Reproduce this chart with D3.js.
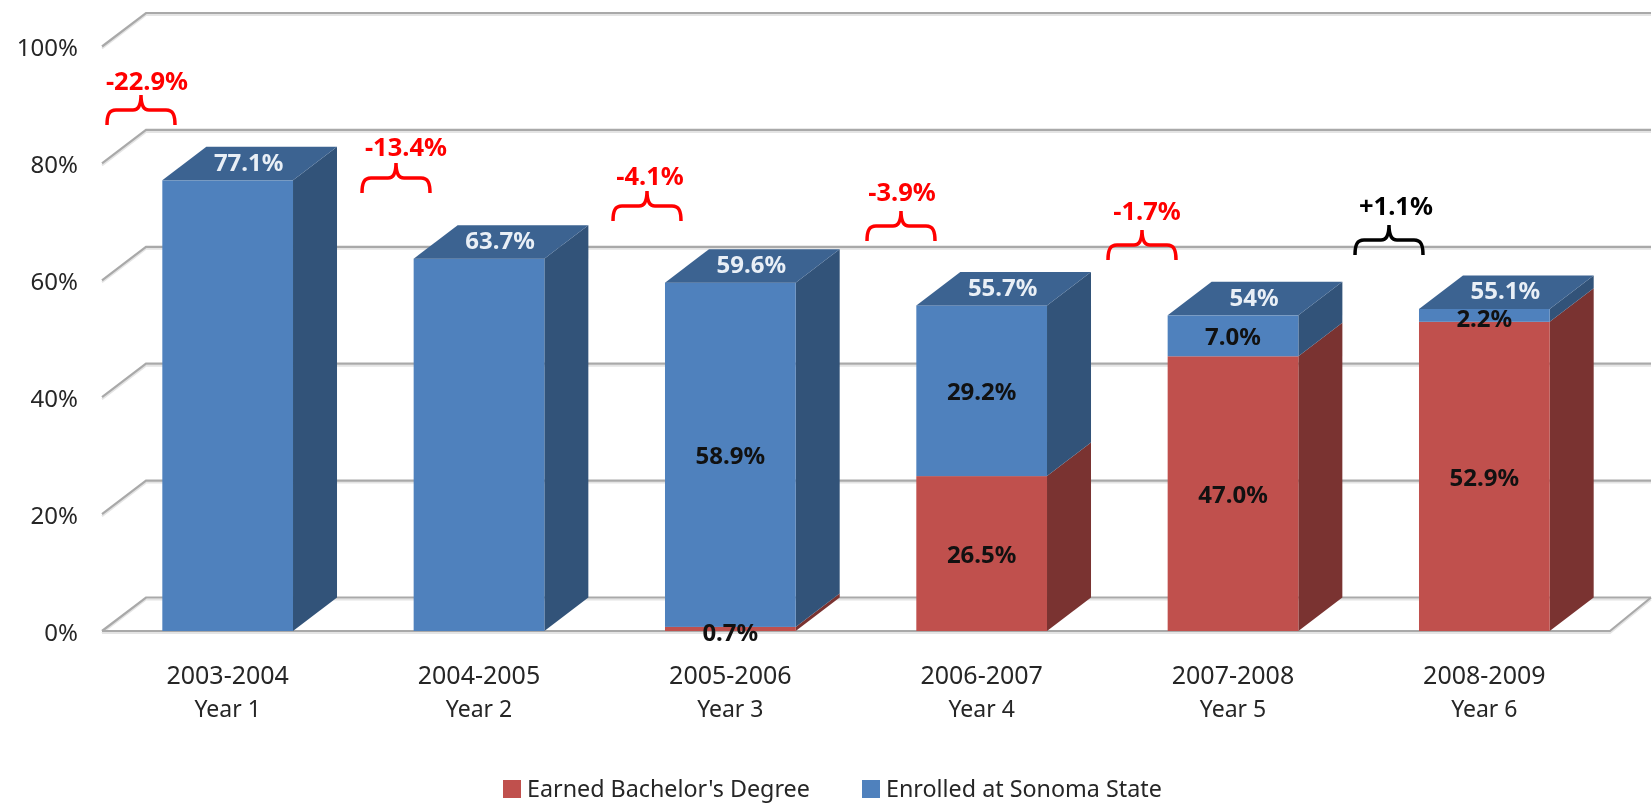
<!DOCTYPE html>
<html>
<head>
<meta charset="utf-8">
<script src="https://cdn.jsdelivr.net/npm/d3@7"></script>
<style>
  html, body { margin: 0; padding: 0; background: #fff; }
  svg { display: block; font-family: "Noto Sans", sans-serif; filter: blur(0.5px); }
</style>
</head>
<body>
<div id="chart"></div>
<script>
// Chart data
const categories = ["2003-2004", "2004-2005", "2005-2006", "2006-2007", "2007-2008", "2008-2009"];
const yearLabels = ["Year 1", "Year 2", "Year 3", "Year 4", "Year 5", "Year 6"];
const earnedDegree = [0, 0, 0.7, 26.5, 47.0, 52.9];
const enrolled = [77.1, 63.7, 58.9, 29.2, 7.0, 2.2];
const totalLabels = ["77.1%", "63.7%", "59.6%", "55.7%", "54%", "55.1%"];
const changeLabels = ["-22.9%", "-13.4%", "-4.1%", "-3.9%", "-1.7%", "+1.1%"];
const yTicks = [0, 20, 40, 60, 80, 100];
const seriesNames = ["Earned Bachelor's Degree", "Enrolled at Sonoma State"];

var width = 1652;
var height = 803;

// depth of the fake 3d box
var depthX = 44;
var depthY = 33.5;

var front = { left: 102, right: 1610 };

var colors = {
  red: { front: "#c0504d", side: "#7a3331" },
  blue: { front: "#4f81bd", side: "#325379", top: "#3c6391" }
};

// brackets over the bars: left edge, bottom edge, label centre, label baseline
var bracePlaces = [
  [107, 125, 147, 90],
  [362, 193, 406, 156],
  [613, 221, 650, 185],
  [867, 241, 902, 201],
  [1108, 260, 1147, 220],
  [1355, 255, 1396, 215]
];

var svg = d3.select("#chart")
  .append("svg")
    .attr("width", width)
    .attr("height", height);

var x = d3.scaleBand()
  .domain(categories)
  .range([front.left, front.right])
  .paddingInner(0.48)
  .paddingOuter(0.24);

var y = d3.scaleLinear()
  .domain([0, 100])
  .range([631, 46.5]);

// stack the two series
var rows = categories.map((c, i) => ({ category: c, earned: earnedDegree[i], enrolled: enrolled[i] }));
var stacked = d3.stack().keys(["earned", "enrolled"])(rows);

// GRID LINES
var grid = svg.append("g");

yTicks.forEach(t => {
  var pts = [[front.left, y(t)], [front.left + depthX, y(t) - depthY], [width - 1, y(t) - depthY]];
  grid.append("path")
    .attr("d", d3.line()(pts))
    .attr("transform", "translate(0,2)")
    .attr("fill", "none")
    .attr("stroke", "#e4e4e4")
    .attr("stroke-width", 2);
  grid.append("path")
    .attr("d", d3.line()(pts))
    .attr("fill", "none")
    .attr("stroke", "#a9a9a9")
    .attr("stroke-width", 2.2);
});

// floor edge at the front and the right
var floorPts = [[front.left, y(0)], [front.right, y(0)], [front.right + depthX - 3, y(0) - depthY]];
grid.append("path")
  .attr("d", d3.line()(floorPts))
  .attr("transform", "translate(0,2)")
  .attr("fill", "none")
  .attr("stroke", "#e4e4e4")
  .attr("stroke-width", 2);
grid.append("path")
  .attr("d", d3.line()(floorPts))
  .attr("fill", "none")
  .attr("stroke", "#a9a9a9")
  .attr("stroke-width", 2.2);

// Y AXIS
var yAxis = d3.axisLeft(y)
  .tickValues(yTicks)
  .tickSize(0)
  .tickPadding(0)
  .tickFormat(d => d + "%");

svg.append("g")
  .attr("transform", "translate(78,1.5)")
  .call(yAxis)
  .call(g => g.select(".domain").remove())
  .selectAll("text")
    .style("font-family", "'Noto Sans', sans-serif")
    .style("font-size", "24px")
    .attr("fill", "#262626");

// BARS
var barColors = [colors.red, colors.blue];
var bars = svg.append("g");

function sidePath(cat, low, high) {
  var x1 = x(cat) + x.bandwidth();
  return d3.line()([
    [x1, y(low)],
    [x1 + depthX, y(low) - depthY],
    [x1 + depthX, y(high) - depthY],
    [x1, y(high)]
  ]) + "Z";
}

stacked.forEach((layer, s) => {
  var g = bars.append("g");

  g.selectAll(".side")
    .data(layer)
    .enter()
    .append("path")
      .attr("class", "side")
      .attr("d", d => sidePath(d.data.category, d[0], d[1]))
      .attr("fill", barColors[s].side);

  g.selectAll(".front")
    .data(layer)
    .enter()
    .append("rect")
      .attr("class", "front")
      .attr("x", d => x(d.data.category))
      .attr("y", d => y(d[1]))
      .attr("width", x.bandwidth())
      .attr("height", d => y(d[0]) - y(d[1]))
      .attr("fill", barColors[s].front);
});

// top faces, always the blue series because it is on top of the stack
bars.selectAll(".top")
  .data(stacked[1])
  .enter()
  .append("path")
    .attr("class", "top")
    .attr("d", d => {
      var x0 = x(d.data.category);
      var x1 = x0 + x.bandwidth();
      return d3.line()([
        [x0, y(d[1])],
        [x1, y(d[1])],
        [x1 + depthX, y(d[1]) - depthY],
        [x0 + depthX, y(d[1]) - depthY]
      ]) + "Z";
    })
    .attr("fill", colors.blue.top);

// BAR LABELS
// the first two years only have the total, no inner label
stacked.forEach(layer => {
  svg.selectAll(null)
    .data(layer.filter(d => d[1] - d[0] > 0 && d.data.earned > 0))
    .enter()
    .append("text")
      .attr("x", d => x(d.data.category) + x.bandwidth() / 2)
      .attr("y", d => y((d[0] + d[1]) / 2) + (d[1] - d[0] < 3 ? 3 : 1))
      .attr("dy", "0.36em")
      .attr("text-anchor", "middle")
      .style("font-size", "24px")
      .style("font-weight", "bold")
      .attr("fill", "#111")
      .text(d => (d[1] - d[0]).toFixed(1) + "%");
});

svg.selectAll(null)
  .data(stacked[1])
  .enter()
  .append("text")
    .attr("x", d => x(d.data.category) + x.bandwidth() / 2 + depthX / 2 - 1)
    .attr("y", d => y(d[1]) - depthY / 2 - 1.5)
    .attr("dy", "0.36em")
    .attr("text-anchor", "middle")
    .style("font-size", "24px")
    .style("font-weight", "bold")
    .attr("fill", "#e9eff6")
    .text((d, i) => totalLabels[i]);

// CATEGORY LABELS
var catLabels = svg.selectAll(null)
  .data(categories)
  .enter()
  .append("text")
    .attr("text-anchor", "middle")
    .attr("fill", "#262626");

catLabels.append("tspan")
  .attr("x", d => x(d) + x.bandwidth() / 2)
  .attr("y", 684)
  .style("font-size", "25px")
  .text(d => d);

catLabels.append("tspan")
  .attr("x", d => x(d) + x.bandwidth() / 2)
  .attr("y", 717)
  .style("font-size", "23px")
  .text((d, i) => yearLabels[i]);

// BRACKETS AND CHANGE LABELS
function bracePath(left, bottom) {
  var w = 68;
  var mid = left + w / 2;
  return "M" + left + "," + bottom +
    "C" + left + "," + (bottom - 10) + " " + (left + 2) + "," + (bottom - 15) + " " + (left + 9) + "," + (bottom - 15) +
    "L" + (mid - 8) + "," + (bottom - 15) +
    "C" + (mid - 3) + "," + (bottom - 15) + " " + mid + "," + (bottom - 20) + " " + mid + "," + (bottom - 30) +
    "C" + mid + "," + (bottom - 20) + " " + (mid + 3) + "," + (bottom - 15) + " " + (mid + 8) + "," + (bottom - 15) +
    "L" + (left + w - 9) + "," + (bottom - 15) +
    "C" + (left + w - 2) + "," + (bottom - 15) + " " + (left + w) + "," + (bottom - 10) + " " + (left + w) + "," + bottom;
}

changeLabels.forEach((label, i) => {
  var place = bracePlaces[i];
  var col = label[0] === "+" ? "#000" : "#ff0000";

  svg.append("path")
    .attr("d", bracePath(place[0], place[1]))
    .attr("fill", "none")
    .attr("stroke", col)
    .attr("stroke-width", 3.5);

  svg.append("text")
    .attr("x", place[2])
    .attr("y", place[3])
    .attr("text-anchor", "middle")
    .style("font-size", "25.5px")
    .style("font-weight", "bold")
    .attr("fill", col)
    .text(label);
});

// LEGEND
var legendX = [503, 862];
var legendCol = [colors.red.front, colors.blue.front];

seriesNames.forEach((name, i) => {
  svg.append("rect")
    .attr("x", legendX[i])
    .attr("y", 780)
    .attr("width", 18)
    .attr("height", 18)
    .attr("fill", legendCol[i]);

  svg.append("text")
    .attr("x", legendX[i] + 24)
    .attr("y", 797)
    .style("font-size", "23.3px")
    .attr("fill", "#262626")
    .text(name);
});
</script>
</body>
</html>
